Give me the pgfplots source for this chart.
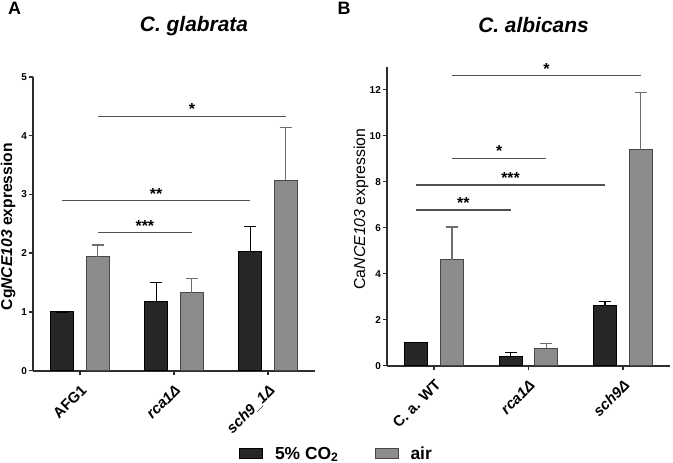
\documentclass[border=0pt]{standalone}
\usepackage{pgfplots}
\usepackage{pgfplotstable}
\pgfplotsset{compat=1.18}
\usepackage{fontspec}
\setmainfont{Liberation Sans}
\definecolor{barblack}{HTML}{262626}
\definecolor{bargray}{HTML}{8C8C8C}
\definecolor{edgegray}{HTML}{474747}
\definecolor{errgray}{HTML}{6E6E6E}
\definecolor{axiscol}{HTML}{2E2E2E}
\definecolor{sigcol}{HTML}{505050}

\pgfplotstableread{
x y e
0 1.00 0
1 1.17 0.33
2 2.02 0.43
}\cgco
\pgfplotstableread{
x y e
0 1.94 0.20
1 1.33 0.24
2 3.24 0.90
}\cgair
\pgfplotstableread{
x y e
0 1.00 0
1 0.41 0.17
2 2.61 0.17
}\caco
\pgfplotstableread{
x y e
0 4.60 1.43
1 0.76 0.21
2 9.38 2.49
}\caair

\tikzset{
  sig/.style={sigcol, line width=1.2bp},
  star/.style={above, inner sep=1bp, font=\fontsize{16}{18}\selectfont\bfseries, text=black},
}
\pgfplotsset{
  legbox/.style={legend image code/.code={\draw[##1] (0bp,-5bp) rectangle (23bp,5bp);}},
  gp/.style={
    scale only axis,
    axis x line=bottom, axis y line=left,
    axis line style={-, line width=2bp, color=axiscol},
    xmin=-0.5, xmax=2.5, ymin=0,
    xtick={0,1,2},
    tick align=outside, major tick length=4.5bp,
    tick style={line width=1.5bp, color=axiscol},
    minor tick num=0,
    ybar, bar width=23bp,
    /pgf/number format/assume math mode=true,
    yticklabel style={font=\fontsize{10}{12}\selectfont\bfseries, inner sep=1.5bp},
    xticklabel style={font=\fontsize{15}{18}\selectfont\bfseries, rotate=45, anchor=north east, inner sep=1bp},
    xticklabel shift=7bp,
    clip=false,
    enlargelimits=false,
  },
  co/.style={fill=barblack, draw=black, line width=1bp, bar shift=-17.75bp, forget plot,
    error bars/.cd, y dir=plus, y explicit, error mark=|,
    error bar style={line width=1.3bp, color=black},
    error mark options={line width=1.3bp, mark size=6bp, color=black}},
  air/.style={fill=bargray, draw=edgegray, line width=1bp, bar shift=17.75bp, forget plot,
    error bars/.cd, y dir=plus, y explicit, error mark=|,
    error bar style={line width=1.3bp, color=errgray},
    error mark options={line width=1.3bp, mark size=6bp, color=errgray}},
}

\begin{document}
\begin{tikzpicture}
\path[use as bounding box] (0,0) rectangle (673bp,463bp);

\node[font=\fontsize{18}{20}\selectfont\bfseries] at (14.5bp,455bp) {A};
\node[font=\fontsize{18}{20}\selectfont\bfseries] at (344bp,455bp) {B};
\node[font=\fontsize{21}{24}\selectfont\bfseries\itshape] at (194bp,437bp) {C. glabrata};
\node[font=\fontsize{21}{24}\selectfont\bfseries\itshape] at (533.5bp,438bp) {C. albicans};

% Left panel
\begin{axis}[gp,
  at={(33bp,92.4bp)}, anchor=south west,
  width=282bp, height=293.6bp,
  ymax=5, ytick={0,1,2,3,4,5},
  xticklabels={AFG1,{\textit{rca1Δ}},{\textit{sch9\_1Δ}}},
  ylabel={Cg\textit{NCE103} expression},
  ylabel style={at={(axis description cs:-0.088,0.49)}, anchor=center, font=\fontsize{15.7}{18}\selectfont\bfseries},
  legend style={at={(axis description cs:1.076,-0.284)}, anchor=center, draw=none, fill=none,
    legend columns=2, font=\fontsize{17.5}{20}\selectfont\bfseries,
    /tikz/every odd column/.append style={column sep=10bp},
    /tikz/every even column/.append style={column sep=34bp}},
]
\addlegendimage{legbox, draw=black, fill=barblack, line width=1bp}
\addlegendentry{5\% CO\textsubscript{2}}
\addlegendimage{legbox, draw=edgegray, fill=bargray, line width=1bp}
\addlegendentry{air}
\addplot[co] table[x=x, y=y, y error=e] {\cgco};
\addplot[air] table[x=x, y=y, y error=e] {\cgair};
\draw[sig] (axis cs:0.19,4.33) -- (axis cs:2.19,4.33) node[midway, star] {*};
\draw[sig] (axis cs:-0.19,2.89) -- (axis cs:1.81,2.89) node[midway, star] {**};
\draw[sig] (axis cs:0.19,2.35) -- (axis cs:1.19,2.35) node[midway, star] {***};
\end{axis}

% Right panel
\begin{axis}[gp,
  at={(387bp,97.3bp)}, anchor=south west,
  width=283bp, height=299bp,
  ymax=13, ytick={0,2,4,6,8,10,12},
  xticklabels={C. a. WT,{\textit{rca1Δ}},{\textit{sch9Δ}}},
  ylabel={Ca\textit{NCE103} expression},
  ylabel style={at={(axis description cs:-0.092,0.524)}, anchor=center, font=\fontsize{15.9}{18}\selectfont},
]
\addplot[co] table[x=x, y=y, y error=e] {\caco};
\addplot[air] table[x=x, y=y, y error=e] {\caair};
\draw[sig] (axis cs:0.19,12.6) -- (axis cs:2.19,12.6) node[midway, star] {*};
\draw[sig] (axis cs:0.19,9.02) -- (axis cs:1.19,9.02) node[midway, star] {*};
\draw[sig] (axis cs:-0.19,7.86) -- (axis cs:1.81,7.86) node[midway, star] {***};
\draw[sig] (axis cs:-0.19,6.77) -- (axis cs:0.81,6.77) node[midway, star] {**};
\end{axis}
\end{tikzpicture}
\end{document}
